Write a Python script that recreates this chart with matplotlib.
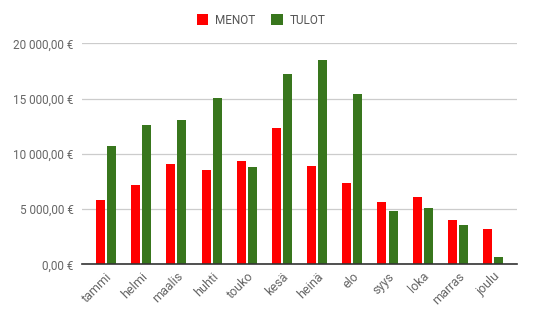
import numpy as np
import matplotlib.pyplot as plt
from matplotlib.ticker import FuncFormatter

plt.rcParams['font.family'] = ['Roboto', 'DejaVu Sans']

months = ['tammi', 'helmi', 'maalis', 'huhti', 'touko', 'kesä',
          'heinä', 'elo', 'syys', 'loka', 'marras', 'joulu']
menot = [5790, 7150, 9050, 8510, 9320, 12310, 8870, 7330, 5610, 6060, 3980, 3170]
tulot = [10680, 12580, 13030, 15020, 8780, 17220, 18460, 15380, 4800, 5070, 3530, 630]
yticks = [0, 5000, 10000, 15000, 20000]

red = '#ff0000'
green = '#38761d'

fig = plt.figure(figsize=(5.33, 3.14), dpi=100)
ax = fig.add_axes([0.154, 0.158, 0.816, 0.704])

x = np.arange(len(months))
w = 0.256
ax.bar(x - 0.157, menot, w, color=red, label='MENOT', zorder=3)
ax.bar(x + 0.157, tulot, w, color=green, label='TULOT', zorder=3)

ax.set_xlim(-0.68, 11.68)
ax.set_ylim(0, 20000)
ax.set_yticks(yticks)


def euro(v, pos):
    s = f'{v:,.2f}'.replace(',', ' ').replace('.', ',')
    return s + ' €'


ax.yaxis.set_major_formatter(FuncFormatter(euro))
ax.grid(axis='y', color='#cccccc', lw=0.9, zorder=0)
for s in ['top', 'right', 'left']:
    ax.spines[s].set_visible(False)
ax.spines['bottom'].set_color('#333333')
ax.spines['bottom'].set_linewidth(1.2)
ax.spines['bottom'].set_zorder(4)
ax.tick_params(length=0, labelsize=8.5, colors='#666666', pad=6)
ax.set_xticks(x)
ax.set_xticklabels(months, rotation=45, ha='right', rotation_mode='anchor')
ax.tick_params(axis='x', pad=4, labelsize=9)

fig.legend(loc='center', bbox_to_anchor=(0.49, 0.936), ncol=2, frameon=False,
           fontsize=8.5, handlelength=1.0, handleheight=1.0, handletextpad=0.6,
           columnspacing=1.3, labelcolor='#555555')

fig.savefig('out.png', dpi=100)
